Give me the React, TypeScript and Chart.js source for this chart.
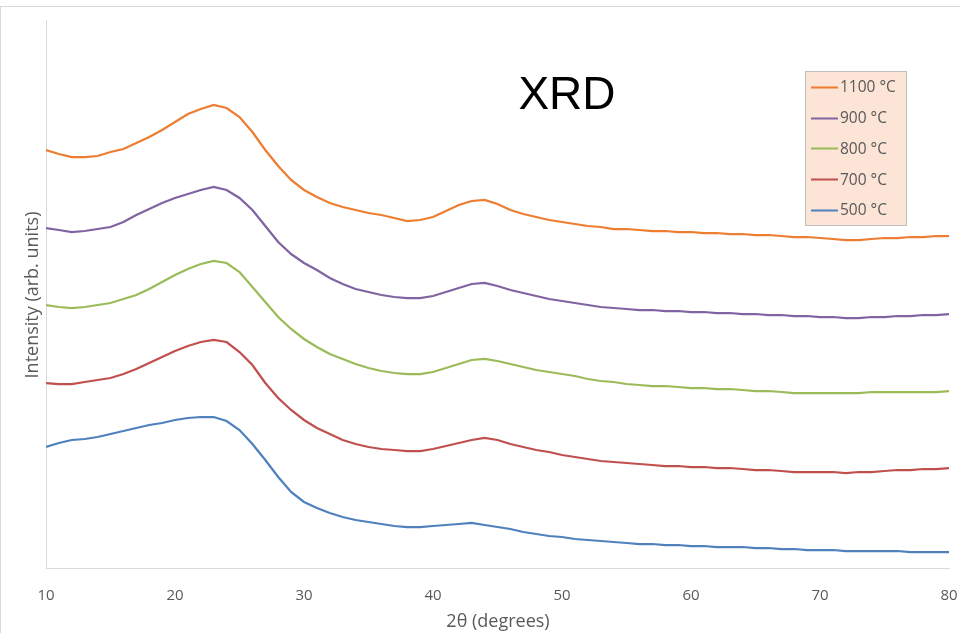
import React, { useEffect, useRef } from "react";
import { Chart, registerables } from "chart.js";

Chart.register(...registerables);

const twoTheta = [
  10, 11, 12, 13, 14, 15, 16, 17, 18, 19,
  20, 21, 22, 23, 24, 25, 26, 27, 28, 29,
  30, 31, 32, 33, 34, 35, 36, 37, 38, 39,
  40, 41, 42, 43, 44, 45, 46, 47, 48, 49,
  50, 51, 52, 53, 54, 55, 56, 57, 58, 59,
  60, 61, 62, 63, 64, 65, 66, 67, 68, 69,
  70, 71, 72, 73, 74, 75, 76, 77, 78, 79, 80,
];

const s500 = [
  121, 125, 128, 129, 131, 134, 137, 140, 143, 145,
  148, 150, 151, 151, 147, 138, 124, 108, 91, 76,
  66, 60, 55, 51, 48, 46, 44, 42, 41, 41,
  42, 43, 44, 45, 43, 41, 39, 36, 34, 32,
  31, 29, 28, 27, 26, 25, 24, 24, 23, 23,
  22, 22, 21, 21, 21, 20, 20, 19, 19, 18,
  18, 18, 17, 17, 17, 17, 17, 16, 16, 16, 16,
];

const s700 = [
  185, 184, 184, 186, 188, 190, 194, 199, 205, 211,
  217, 222, 226, 228, 226, 216, 203, 185, 170, 158,
  148, 140, 134, 128, 124, 121, 119, 118, 117, 117,
  119, 122, 125, 128, 130, 128, 124, 121, 118, 116,
  113, 111, 109, 107, 106, 105, 104, 103, 102, 102,
  101, 101, 100, 100, 99, 98, 98, 97, 96, 96,
  96, 96, 95, 96, 96, 97, 98, 98, 99, 99, 100,
];

const s800 = [
  263, 261, 260, 261, 263, 265, 269, 273, 279, 286,
  293, 299, 304, 307, 305, 296, 281, 266, 251, 239,
  229, 221, 214, 209, 204, 200, 197, 195, 194, 194,
  196, 200, 204, 208, 209, 207, 204, 201, 198, 196,
  194, 192, 189, 187, 186, 184, 183, 182, 182, 181,
  180, 180, 179, 179, 178, 177, 177, 176, 175, 175,
  175, 175, 175, 175, 176, 176, 176, 176, 176, 176, 177,
];

const s900 = [
  340, 338, 336, 337, 339, 341, 346, 353, 359, 365,
  370, 374, 378, 381, 378, 370, 358, 342, 326, 314,
  305, 298, 290, 284, 279, 276, 273, 271, 270, 270,
  272, 276, 280, 284, 285, 282, 278, 275, 272, 269,
  267, 265, 263, 261, 260, 259, 258, 258, 257, 257,
  256, 256, 255, 255, 254, 254, 253, 253, 252, 252,
  251, 251, 250, 250, 251, 251, 252, 252, 253, 253, 254,
];

const s1100 = [
  418, 414, 411, 411, 412, 416, 419, 425, 431, 438,
  446, 454, 459, 463, 460, 451, 436, 418, 402, 388,
  378, 371, 365, 361, 358, 355, 353, 350, 347, 348,
  351, 357, 363, 367, 368, 364, 358, 354, 351, 348,
  346, 344, 342, 341, 339, 339, 338, 337, 337, 336,
  336, 335, 335, 334, 334, 333, 333, 332, 331, 331,
  330, 329, 328, 328, 329, 330, 330, 331, 331, 332, 332,
];

const seriesLabels = ["500 °C", "700 °C", "800 °C", "900 °C", "1100 °C"];
const seriesValues = [s500, s700, s800, s900, s1100];
const seriesColors = ["#4F81BD", "#C0504D", "#9BBB59", "#8064A2", "#ED7D31"];

const xTicks = [10, 20, 30, 40, 50, 60, 70, 80];
const chartTitle = "XRD";
const xTitle = "2θ (degrees)";
const yTitle = "Intensity (arb. units)";

const FONT = "'Open Sans', 'Noto Sans', sans-serif";
const GRAY = "#595959";

const overlayPlugin = {
  id: "overlay",
  beforeDraw(chart: any) {
    const ctx = chart.ctx;
    ctx.save();
    ctx.fillStyle = "#ffffff";
    ctx.fillRect(0, 0, chart.width, chart.height);
    ctx.strokeStyle = "#d9d9d9";
    ctx.lineWidth = 1;
    ctx.strokeRect(0.5, 6.5, chart.width + 20, chart.height + 20);
    ctx.restore();
  },
  afterDraw(chart: any) {
    const ctx = chart.ctx;
    ctx.save();
    // chart title
    ctx.fillStyle = "#000000";
    ctx.font = "46px 'Liberation Sans', Arial, sans-serif";
    ctx.textAlign = "center";
    ctx.textBaseline = "middle";
    ctx.fillText(chartTitle, 567, 96);

    // axis titles
    ctx.fillStyle = GRAY;
    ctx.font = `18px ${FONT}`;
    ctx.fillText(xTitle, 498, 622);
    ctx.save();
    ctx.translate(33, 295);
    ctx.rotate(-Math.PI / 2);
    ctx.fillText(yTitle, 0, 0);
    ctx.restore();

    // legend
    const bx = 805, by = 71, bw = 101, bh = 154;
    ctx.fillStyle = "#FCE4D6";
    ctx.fillRect(bx, by, bw, bh);
    ctx.strokeStyle = "#bfbfbf";
    ctx.lineWidth = 1;
    ctx.strokeRect(bx + 0.5, by + 0.5, bw, bh);
    const ds = chart.data.datasets;
    ctx.textAlign = "left";
    ctx.textBaseline = "middle";
    ctx.font = `15.5px ${FONT}`;
    for (let i = 0; i < ds.length; i++) {
      const d = ds[ds.length - 1 - i];
      const yy = 87 + i * 30.7;
      ctx.strokeStyle = d.borderColor;
      ctx.lineWidth = 2;
      ctx.beginPath();
      ctx.moveTo(811, Math.round(yy) + 0.5);
      ctx.lineTo(838, Math.round(yy) + 0.5);
      ctx.stroke();
      ctx.fillStyle = GRAY;
      ctx.fillText(d.label, 840, yy + 1);
    }
    ctx.restore();
  },
};

export default function App() {
  const ref = useRef<HTMLCanvasElement | null>(null);

  useEffect(() => {
    if (!ref.current) return;
    const datasets = seriesLabels.map((label, i) => ({
      label,
      data: twoTheta.map((x, j) => ({ x, y: seriesValues[i][j] })),
      borderColor: seriesColors[i],
      backgroundColor: seriesColors[i],
      borderWidth: 2.25,
      pointRadius: 0,
      tension: 0,
      fill: false,
    }));
    const chart = new Chart(ref.current, {
      type: "line",
      data: { datasets },
      options: {
        responsive: false,
        animation: false,
        layout: { padding: { left: 0, top: 20, right: 11, bottom: 0 } },
        plugins: {
          legend: { display: false },
          title: { display: false },
          tooltip: { enabled: false },
        },
        scales: {
          x: {
            type: "linear",
            min: 10,
            max: 80,
            afterBuildTicks: (scale: any) => {
              scale.ticks = xTicks.map((v) => ({ value: v }));
            },
            afterFit: (scale: any) => {
              scale.height = 65;
              scale.paddingLeft = 0;
              scale.paddingRight = 0;
            },
            grid: { display: false },
            border: { display: true, color: "#d9d9d9", width: 1 },
            ticks: {
              color: GRAY,
              font: { family: FONT, size: 15 },
              padding: 11,
              maxRotation: 0,
              autoSkip: false,
            },
          },
          y: {
            type: "linear",
            min: 0,
            max: 548,
            afterFit: (scale: any) => {
              scale.width = 46;
              scale.paddingTop = 0;
              scale.paddingBottom = 0;
            },
            grid: { display: false },
            border: { display: true, color: "#d9d9d9", width: 1 },
            ticks: { display: false },
          },
        },
      },
      plugins: [overlayPlugin],
    });
    return () => chart.destroy();
  }, []);

  return (
    <div style={{ position: "absolute", left: 0, top: 0, width: 960, height: 633 }}>
      <canvas ref={ref} width={960} height={633} />
    </div>
  );
}
